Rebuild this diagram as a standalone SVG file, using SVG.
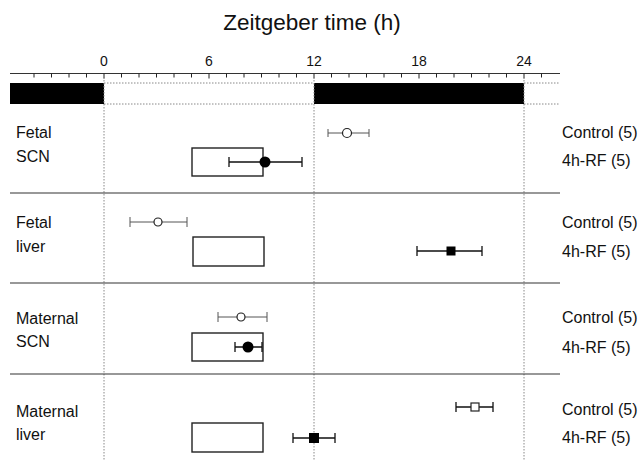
<svg xmlns="http://www.w3.org/2000/svg" width="642" height="460" viewBox="0 0 642 460">
<style>
text{font-family:"Liberation Sans",Arial,sans-serif;fill:#111}
.title{font-size:22.5px}
.tick{font-size:14px;text-anchor:middle}
.lab{font-size:16px}
.grid{stroke:#888;stroke-width:1;stroke-dasharray:1.5 1.5;fill:none}
.sep{stroke:#333;stroke-width:1.2}
.box{fill:#fff;stroke:#222;stroke-width:1.4}
.ctl{stroke:#555;stroke-width:1;fill:none}
.rf{stroke:#111;stroke-width:1.3;fill:none}
.open{fill:#fff;stroke:#222;stroke-width:1.2}
.fill{fill:#000}
.tk{stroke:#222;stroke-width:1}
</style>
<rect width="642" height="460" fill="#fff"/>
<text class="title" x="312" y="30" text-anchor="middle">Zeitgeber time (h)</text>
<g id="axis">
<line x1="10" y1="73.5" x2="560" y2="73.5" stroke="#333" stroke-width="1.2"/>
<path class="tk" d="M34 73.5v4M51.5 73.5v4M69 73.5v4M86.5 73.5v4M104 73.5v5M121.5 73.5v4M139 73.5v4M156.5 73.5v4M174 73.5v4M191.5 73.5v4M209 73.5v5M226.5 73.5v4M244 73.5v4M261.5 73.5v4M279 73.5v4M296.5 73.5v4M314 73.5v5M331.5 73.5v4M349 73.5v4M366.5 73.5v4M384 73.5v4M401.5 73.5v4M419 73.5v5M436.5 73.5v4M454 73.5v4M471.5 73.5v4M489 73.5v4M506.5 73.5v4M524 73.5v5M541.5 73.5v4"/>
<text class="tick" x="104" y="66">0</text>
<text class="tick" x="209" y="66">6</text>
<text class="tick" x="314" y="66">12</text>
<text class="tick" x="419" y="66">18</text>
<text class="tick" x="524" y="66">24</text>
</g>
<g id="lightdark">
<rect x="10" y="83" width="94" height="21" fill="#000"/>
<rect x="314" y="83" width="210" height="21" fill="#000"/>
<path class="grid" d="M104 83H314M104 104H314M524 83H560M524 104H560"/>
</g>
<g id="grid">
<path class="grid" d="M104 74V460M314 74V460M524 74V460"/>
<path class="sep" d="M10 193H560M10 283H560M10 374H560"/>
</g>
<g id="row-fetal-scn">
<text class="lab" x="16" y="138">Fetal</text>
<text class="lab" x="16" y="162">SCN</text>
<text class="lab" x="562" y="138">Control (5)</text>
<text class="lab" x="562" y="166">4h-RF (5)</text>
<path class="ctl" d="M328 133H369M328 129v8M369 129v8"/>
<circle class="open" cx="347" cy="133" r="4.5"/>
<rect class="box" x="192" y="148" width="71" height="28"/>
<path class="rf" d="M229 162H302M229 157v10M302 157v10"/>
<circle class="fill" cx="265" cy="162" r="5.5"/>
</g>
<g id="row-fetal-liver">
<text class="lab" x="16" y="228">Fetal</text>
<text class="lab" x="16" y="252">liver</text>
<text class="lab" x="562" y="228">Control (5)</text>
<text class="lab" x="562" y="257">4h-RF (5)</text>
<path class="ctl" d="M130 222H187M130 217v10M187 217v10"/>
<circle class="open" cx="158" cy="222" r="4"/>
<rect class="box" x="193" y="237" width="71" height="29"/>
<path class="rf" d="M417 251H482M417 246v10M482 246v10" stroke-width="1"/>
<rect class="fill" x="446.5" y="246.5" width="9" height="9"/>
</g>
<g id="row-maternal-scn">
<text class="lab" x="16" y="324">Maternal</text>
<text class="lab" x="16" y="347">SCN</text>
<text class="lab" x="562" y="323">Control (5)</text>
<text class="lab" x="562" y="353">4h-RF (5)</text>
<path class="ctl" d="M218 317H267M218 312v10M267 312v10"/>
<circle class="open" cx="241" cy="317" r="4"/>
<rect class="box" x="192" y="333" width="71" height="28"/>
<path class="rf" d="M235 347H262M235 342v10M262 342v10"/>
<circle class="fill" cx="248" cy="347" r="5.5"/>
</g>
<g id="row-maternal-liver">
<text class="lab" x="16" y="417">Maternal</text>
<text class="lab" x="16" y="440">liver</text>
<text class="lab" x="562" y="415">Control (5)</text>
<text class="lab" x="562" y="443">4h-RF (5)</text>
<path class="rf" d="M456 407H493M456 402v10M493 402v10" stroke-width="1.1"/>
<rect class="open" x="471" y="403" width="8" height="8"/>
<rect class="box" x="192" y="423" width="71" height="29"/>
<path class="rf" d="M293 438H335M293 433v10M335 433v10"/>
<rect class="fill" x="309" y="433" width="10" height="10"/>
</g>
</svg>
